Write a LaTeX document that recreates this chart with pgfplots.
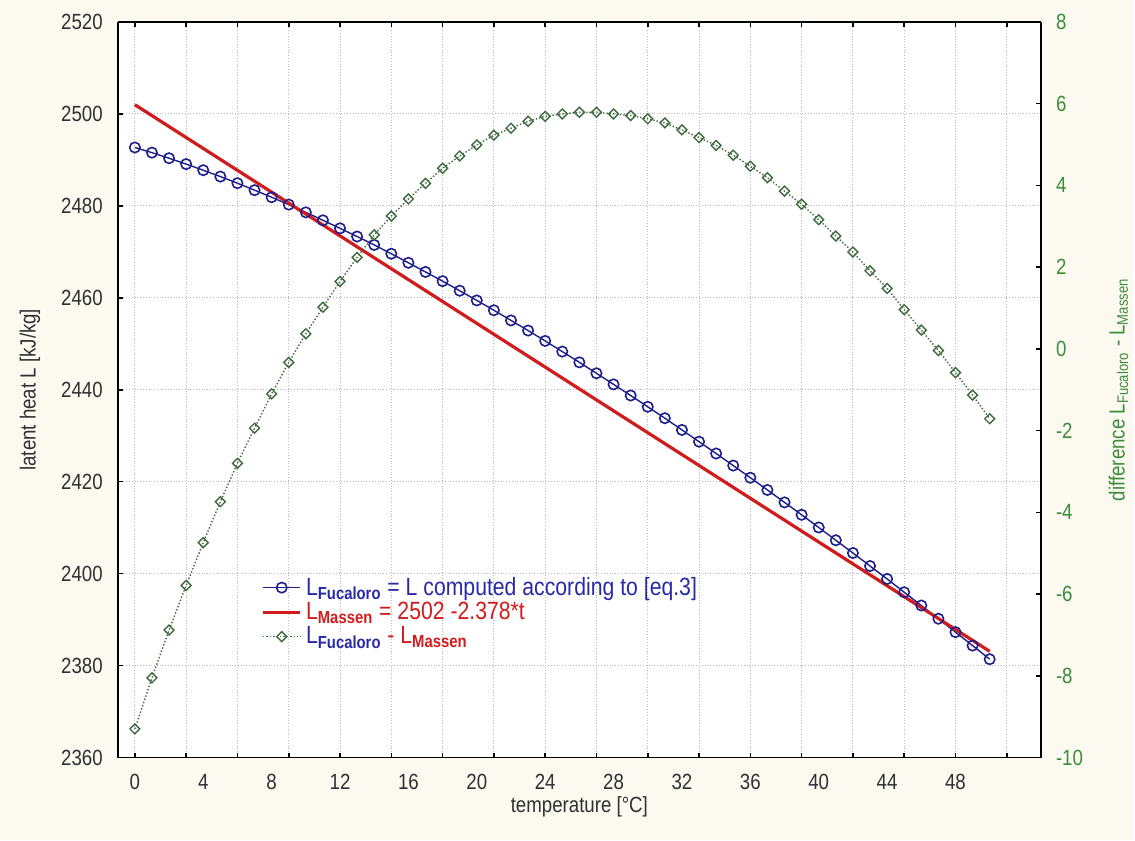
\documentclass[border=0pt]{standalone}
\usepackage{fontspec}
\setmainfont[FakeStretch=0.85]{Liberation Sans}
\usepackage{pgfplots}
\pgfplotsset{compat=1.18}
\definecolor{bgc}{HTML}{FCFAF0}
\definecolor{cblue}{HTML}{1E1E8C}
\definecolor{lblue}{HTML}{2A2AA8}
\definecolor{cred}{HTML}{D01C1C}
\definecolor{cgreen}{HTML}{3E6B3E}
\definecolor{lgreen}{HTML}{3C8C3C}
\definecolor{tickc}{HTML}{303030}
\pgfplotstableread{
t L
0 2492.70
1 2491.57
2 2490.36
3 2489.08
4 2487.75
5 2486.37
6 2484.93
7 2483.41
8 2481.88
9 2480.27
10 2478.59
11 2476.86
12 2475.11
13 2473.33
14 2471.50
15 2469.58
16 2467.62
17 2465.62
18 2463.62
19 2461.54
20 2459.43
21 2457.29
22 2455.08
23 2452.88
24 2450.62
25 2448.30
26 2445.96
27 2443.58
28 2441.17
29 2438.75
30 2436.29
31 2433.81
32 2431.26
33 2428.70
34 2426.13
35 2423.51
36 2420.86
37 2418.20
38 2415.50
39 2412.80
40 2410.04
41 2407.26
42 2404.49
43 2401.66
44 2398.85
45 2395.95
46 2393.07
47 2390.19
48 2387.28
49 2384.35
50 2381.39
}\fucaloro
\pgfplotstableread{
t d
0 -9.30
1 -8.05
2 -6.88
3 -5.79
4 -4.74
5 -3.74
6 -2.80
7 -1.94
8 -1.10
9 -0.33
10 0.37
11 1.02
12 1.65
13 2.24
14 2.79
15 3.25
16 3.67
17 4.05
18 4.42
19 4.72
20 4.99
21 5.23
22 5.40
23 5.57
24 5.69
25 5.75
26 5.79
27 5.79
28 5.75
29 5.71
30 5.63
31 5.53
32 5.36
33 5.17
34 4.98
35 4.74
36 4.47
37 4.19
38 3.86
39 3.54
40 3.16
41 2.76
42 2.37
43 1.91
44 1.48
45 0.96
46 0.46
47 -0.04
48 -0.58
49 -1.13
50 -1.71
}\difference
\begin{document}
\begin{tikzpicture}[x=0.5pt,y=0.5pt]
\fill[bgc] (-118,-83) rectangle (1017,759);
\begin{axis}[
  at={(0,0)}, anchor=south west, scale only axis,
  width=462.5pt, height=368.5pt,
  xmin=-1, xmax=53, ymin=2360, ymax=2520,
  axis y line*=left,
  axis background/.style={fill=white},
  axis line style={line width=0.8pt},
  xtick={0,4,...,48},
  minor xtick={0,3,...,51},
  ytick={2360,2380,...,2520},
  major x tick style={draw=none},
  tick align=inside,
  major tick length=2.5pt, minor tick length=2.5pt,
  tick style={black, line width=0.8pt},
  xmajorgrids=false, xminorgrids=true, ymajorgrids=true,
  major grid style={densely dotted, gray!55, line width=0.5pt},
  minor grid style={densely dotted, gray!55, line width=0.5pt},
  /pgf/number format/assume math mode=true,
  /pgf/number format/1000 sep={},
  tick label style={font=\fontsize{11}{13}\selectfont, text=tickc},
  yticklabel style={xshift=-4pt},
  xticklabel style={yshift=-5pt},
  xlabel={temperature [°C]},
  ylabel={latent heat L [kJ/kg]},
  label style={font=\fontsize{11}{13}\selectfont, text=tickc},
  xlabel style={at={(axis description cs:0.5,-0.067)}, anchor=center},
  ylabel style={at={(axis description cs:-0.0951,0.5)}, anchor=center},
  legend style={at={(0.153,0.254)}, anchor=north west, draw=none, fill=none,
    font=\fontsize{12.5}{14}\selectfont, row sep=-2pt, inner sep=1pt},
  legend cell align=left,
  legend image code/.code={
    \draw[mark repeat=2,mark phase=2] plot coordinates {(0cm,0cm) (0.33cm,0cm) (0.66cm,0cm)};},
]
\addplot[cblue, line width=0.7pt, mark=o, mark size=2.6pt, mark options={fill=white, line width=0.8pt}] table[x=t,y=L] {\fucaloro};
\addlegendentry{\textcolor{lblue}{L\textsubscript{\textbf{Fucaloro}} = L computed according to [eq.3]}}
\addplot[cred, line width=1.6pt, no markers] coordinates {(0,2502) (50,2383.1)};
\addlegendentry{\textcolor{cred}{L\textsubscript{\textbf{Massen}} = 2502 -2.378*t}}
\addlegendimage{cgreen, densely dotted, line width=0.7pt, mark=square, mark size=1.75pt, mark options={solid, rotate=45, fill=white, line width=0.7pt}}
\addlegendentry{\textcolor{lblue}{L\textsubscript{\textbf{Fucaloro}}} \textcolor{cred}{- L\textsubscript{\textbf{Massen}}}}
\end{axis}
\begin{axis}[
  at={(0,0)}, anchor=south west, scale only axis,
  width=462.5pt, height=368.5pt,
  xmin=-1, xmax=53, ymin=-10, ymax=8,
  axis y line*=right, axis x line=none,
  axis line style={line width=0.8pt},
  ytick={-10,-8,...,8},
  tick align=inside,
  major tick length=2.5pt,
  tick style={black, line width=0.8pt},
  /pgf/number format/assume math mode=true,
  tick label style={font=\fontsize{11}{13}\selectfont, text=lgreen},
  yticklabel style={xshift=4pt},
  ylabel={difference L\textsubscript{Fucaloro} - L\textsubscript{Massen}},
  ylabel style={at={(axis description cs:1.084,0.5)}, anchor=center, font=\fontsize{11}{13}\selectfont, text=lgreen},
]
\addplot[cgreen, densely dotted, line width=0.7pt, mark=square, mark size=1.75pt, mark options={solid, rotate=45, fill=white, line width=0.7pt}] table[x=t,y=d] {\difference};
\end{axis}
\end{tikzpicture}
\end{document}
